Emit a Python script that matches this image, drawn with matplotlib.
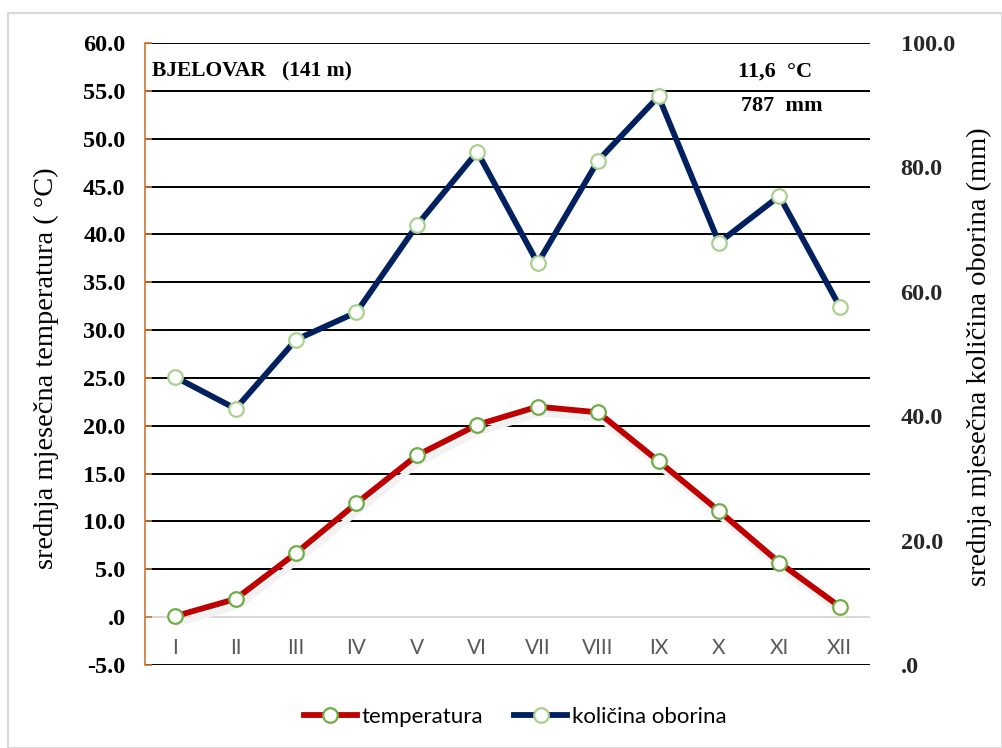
import matplotlib
matplotlib.use("Agg")
import matplotlib.pyplot as plt
from matplotlib.patches import Rectangle
from matplotlib.lines import Line2D
import matplotlib.patheffects as pe
import numpy as np

months = ["I", "II", "III", "IV", "V", "VI", "VII", "VIII", "IX", "X", "XI", "XII"]
temperature = [0.1, 1.9, 6.7, 11.9, 16.9, 20.1, 22.0, 21.4, 16.3, 11.1, 5.7, 1.1]
precipitation = [46.3, 41.2, 52.3, 56.7, 70.7, 82.5, 64.6, 81.1, 91.4, 67.9, 75.4, 57.6]
left_ticks = [-5, 0, 5, 10, 15, 20, 25, 30, 35, 40, 45, 50, 55, 60]
right_ticks = [0, 20, 40, 60, 80, 100]
station = "BJELOVAR   (141 m)"
mean_temp_text = "11,6  °C"
total_prec_text = "787  mm"
ylabel_left = "srednja mjesečna temperatura ( °C)"
ylabel_right = "srednja mjesečna količina oborina (mm)"

def fmt(v):
    s = f"{v:.1f}"
    if s.startswith("0"):
        s = s[1:]
    return s

W, H = 1003, 748
fig = plt.figure(figsize=(W / 100, H / 100), dpi=100)
fig.patches.append(Rectangle((8 / W, 0), (W - 9) / W, (H - 13) / H, transform=fig.transFigure,
                             fill=False, edgecolor="#d9d9d9", linewidth=1.5))

ax = fig.add_axes([145 / W, (H - 665) / H, 725 / W, 622 / H])
ax2 = ax.twinx()

x = np.arange(len(months))
ax.set_xlim(-0.5, len(months) - 0.5)
ax.set_ylim(-5, 60)
ax2.set_ylim(0, 100)

for v in left_ticks:
    ax.axhline(v, color="#d9d9d9" if v == 0 else "black", lw=1.4, zorder=1)

serif = "Liberation Serif"
ax.set_yticks(left_ticks)
ax.set_yticklabels([fmt(v) for v in left_ticks], fontfamily=serif, fontweight="bold", fontsize=17.5)
ax.tick_params(axis="y", direction="in", length=5, width=1.2, color="#c87533", pad=14)
ax.set_xticks([])
ax2.set_yticks(right_ticks)
ax2.set_yticklabels([fmt(v) for v in right_ticks], fontfamily=serif, fontweight="bold", fontsize=17.5,
                    color="#262626")
ax2.tick_params(axis="y", length=0, pad=22)

for a in (ax, ax2):
    for s in ("top", "bottom", "right"):
        a.spines[s].set_visible(False)
ax2.spines["left"].set_visible(False)
ax.spines["left"].set_color("#c87533")
ax.spines["left"].set_linewidth(1.2)

for i, m in enumerate(months):
    ax.text(i, -3.25, m, ha="center", va="center", fontsize=15, color="#595959", fontfamily="Lato")

ax.set_ylabel(ylabel_left, fontfamily=serif, fontsize=20.5)
ax.yaxis.set_label_coords(-0.118, 0.477)
ax2.set_ylabel(ylabel_right, fontfamily=serif, fontsize=20.5)
ax2.yaxis.set_label_coords(1.133, 0.495)

# temperature: line with soft shadow, then markers on top
ax.plot(x, temperature, color="#c00000", lw=4.2, zorder=4, solid_joinstyle="round",
        path_effects=[pe.SimpleLineShadow(offset=(2, -5), shadow_color="#f2f2f2", alpha=1.0),
                      pe.Normal()])
ax.plot(x, temperature, ls="none", marker="o", ms=10.5, mfc="white", mec="#70ad47", mew=1.6, zorder=5)
ax2.plot(x, precipitation, color="#002060", lw=4.2, marker="o", ms=10.5, mfc="white",
         mec="#a9d18e", mew=1.6, zorder=5, solid_joinstyle="round")

fig.text(152 / W, 1 - 71 / H, station, fontfamily=serif, fontweight="bold", fontsize=15.5,
         ha="left", va="center")
fig.text(738 / W, 1 - 72 / H, mean_temp_text, fontfamily=serif, fontweight="bold", fontsize=16,
         ha="left", va="center")
fig.text(741 / W, 1 - 106 / H, total_prec_text, fontfamily=serif, fontweight="bold", fontsize=16,
         ha="left", va="center")

h1 = Line2D([], [], color="#c00000", lw=4.2, marker="o", ms=10.5, mfc="white", mec="#70ad47", mew=1.6)
h2 = Line2D([], [], color="#002060", lw=4.2, marker="o", ms=10.5, mfc="white", mec="#a9d18e", mew=1.6)
fig.legend([h1, h2], ["temperatura", "količina oborina"], loc="center",
           bbox_to_anchor=(515 / W, 1 - 717 / H), ncol=2, frameon=False,
           prop={"family": "Lato", "size": 16}, handlelength=2.4, handletextpad=0.2, columnspacing=1.4)

fig.savefig("out.png", dpi=100)
